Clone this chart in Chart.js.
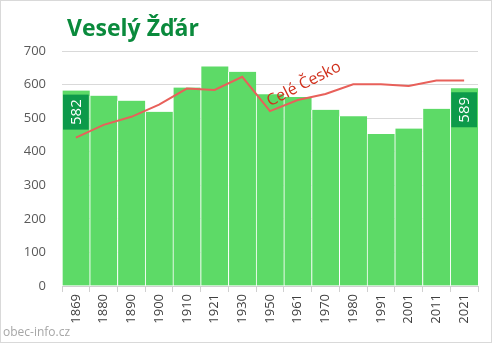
<!DOCTYPE html>
<html>
<head>
<meta charset="utf-8">
<script src="https://cdn.jsdelivr.net/npm/chart.js@4/dist/chart.umd.min.js"></script>
<style>
  body { margin: 0; background: #fff; }
  #wrap { width: 492px; height: 343px; }
</style>
</head>
<body>
<div id="wrap"><canvas id="chart" width="492" height="343"></canvas></div>
<script>
// data
const years = ['1869','1880','1890','1900','1910','1921','1930','1950','1961','1970','1980','1991','2001','2011','2021'];
const obec = [582, 567, 552, 519, 591, 654, 638, 571, 563, 525, 506, 453, 469, 528, 589];
const celeCesko = [442, 480, 504, 540, 588, 584, 623, 521, 554, 572, 601, 601, 596, 612, 612];
const yTicks = [0, 100, 200, 300, 400, 500, 600, 700];
const title = 'Veselý Žďár';

const font = '"Open Sans", "Noto Sans", sans-serif';

const extras = {
  id: 'extras',
  afterDatasetsDraw(chart) {
    const ctx = chart.ctx;
    const x = chart.scales.x, y = chart.scales.y;
    ctx.save();
    // title
    ctx.fillStyle = '#0a8a3c';
    ctx.font = 'bold 23px ' + font;
    ctx.textBaseline = 'middle';
    ctx.textAlign = 'left';
    ctx.fillText(title, 67, 29);

    // first / last value boxes
    const w = x.getPixelForValue(1) - x.getPixelForValue(0);
    [0, obec.length - 1].forEach(i => {
      const cx = x.getPixelForValue(i);
      const top = y.getPixelForValue(obec[i]) + 4;
      ctx.fillStyle = '#0d9a4a';
      ctx.fillRect(cx - w / 2 + 1, top, w - 2, 35);
      ctx.save();
      ctx.translate(cx + 1, top + 17.5);
      ctx.rotate(-Math.PI / 2);
      ctx.fillStyle = '#fff';
      ctx.font = '15px ' + font;
      ctx.textAlign = 'center';
      ctx.textBaseline = 'middle';
      ctx.fillText(String(obec[i]), 0, 0);
      ctx.restore();
    });

    // line label
    const lx = x.getPixelForValue(7) + 34;
    const ly = y.getPixelForValue(celeCesko[7]) - 27;
    ctx.save();
    ctx.translate(lx, ly);
    ctx.rotate(-27 * Math.PI / 180);
    ctx.fillStyle = '#d0301c';
    ctx.font = '16px ' + font;
    ctx.textAlign = 'center';
    ctx.textBaseline = 'middle';
    ctx.fillText('Celé Česko', 0, 0);
    ctx.restore();

    // source
    ctx.fillStyle = '#a6a6a6';
    ctx.font = '12px ' + font;
    ctx.textAlign = 'left';
    ctx.textBaseline = 'middle';
    ctx.fillText('obec-info.cz', 3, 333);

    // frame
    ctx.strokeStyle = '#d9d9d9';
    ctx.lineWidth = 1;
    ctx.strokeRect(0.5, 0.5, 491, 342);
    ctx.restore();
  }
};

new Chart(document.getElementById('chart'), {
  data: {
    labels: years,
    datasets: [
      {
        type: 'line',
        label: 'Celé Česko',
        data: celeCesko,
        borderColor: '#e8605a',
        borderWidth: 2,
        pointRadius: 0,
        tension: 0,
        order: 0
      },
      {
        type: 'bar',
        label: 'Veselý Žďár',
        data: obec,
        backgroundColor: '#5dda67',
        borderColor: '#ffffff',
        borderWidth: { left: 1, right: 0, top: 0, bottom: 0 },
        categoryPercentage: 1,
        barPercentage: 1,
        order: 1
      }
    ]
  },
  options: {
    responsive: false,
    animation: false,
    layout: { padding: { top: 51, left: 0, right: 14, bottom: 0 } },
    plugins: {
      legend: { display: false },
      tooltip: { enabled: false }
    },
    scales: {
      x: {
        offset: true,
        grid: { display: true, offset: true, drawOnChartArea: false, tickLength: 6, color: '#d0d0d0' },
        border: { display: true, color: '#d0d0d0' },
        ticks: {
          color: '#404040',
          font: { family: font, size: 13 },
          maxRotation: 90, minRotation: 90,
          padding: 2
        },
        afterFit(scale) { scale.height = 57; }
      },
      y: {
        min: 0, max: 700,
        afterBuildTicks(scale) { scale.ticks = yTicks.map(v => ({ value: v })); },
        grid: { color: '#d9d9d9', drawTicks: false },
        border: { display: false },
        ticks: {
          color: '#595959',
          font: { family: font, size: 13 },
          padding: 16
        },
        afterFit(scale) { scale.width = 62; }
      }
    }
  },
  plugins: [extras]
});
</script>
</body>
</html>
